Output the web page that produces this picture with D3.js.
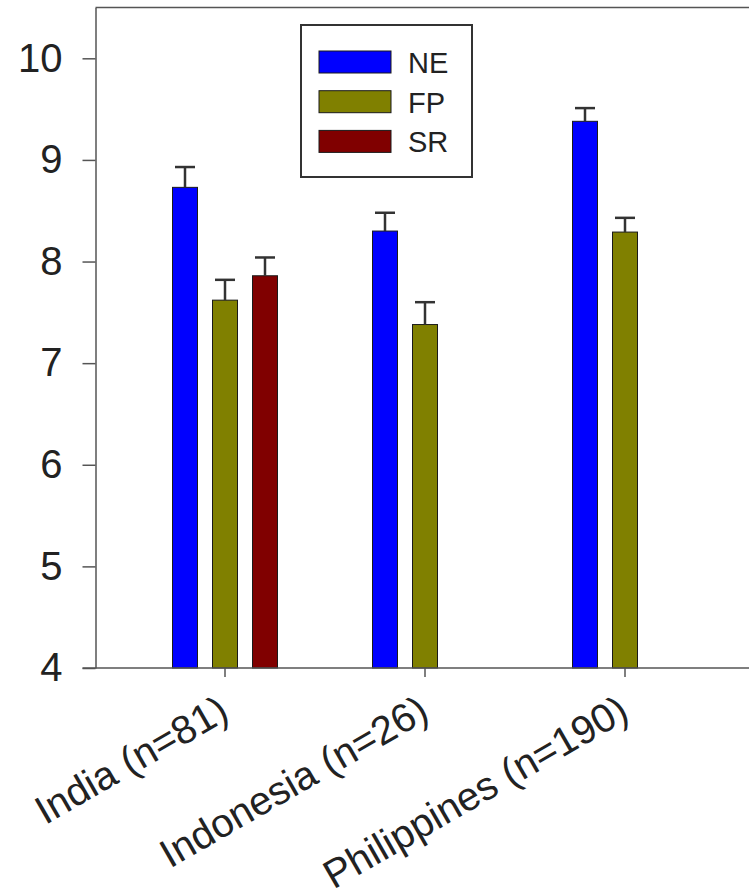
<!DOCTYPE html>
<html>
<head>
<meta charset="utf-8">
<script src="https://cdn.jsdelivr.net/npm/d3@7"></script>
<style>
  html, body { margin: 0; padding: 0; background: #fff; }
  svg { display: block; font-family: "Liberation Sans", Arial, sans-serif; }
  .axis text { fill: #222; }
  .axis line { stroke: #555; stroke-width: 1.5; }
</style>
</head>
<body>
<div id="chart"></div>
<script>
// chart values
const categories = ['India (n=81)', 'Indonesia (n=26)', 'Philippines (n=190)'];
const seriesNames = ['NE', 'FP', 'SR'];
const neValues = [8.73, 8.30, 9.38];
const fpValues = [7.62, 7.38, 8.29];
const srValues = [7.86, null, null];
const neErrors = [0.20, 0.18, 0.13];
const fpErrors = [0.20, 0.22, 0.14];
const srErrors = [0.18, null, null];
const yDomain = [4, 10.5];
const yTicks = [4, 5, 6, 7, 8, 9, 10];

const colors = d3.scaleOrdinal().domain(seriesNames).range(['#0000ff', '#808000', '#800000']);

const width = 749;
const height = 894;
const plotLeft = 95.5;
const plotRight = 780;   // frame runs off the right edge of the picture
const plotTop = 7.5;
const plotBottom = 668;

// flatten into one row per bar
const rows = [];
const seriesValues = [neValues, fpValues, srValues];
const seriesErrors = [neErrors, fpErrors, srErrors];
seriesNames.forEach((s, si) => {
  categories.forEach((c, ci) => {
    const v = seriesValues[si][ci];
    if (v == null) return;
    rows.push({ series: s, category: c, value: v, err: seriesErrors[si][ci] });
  });
});

const svg = d3.select('#chart').append('svg')
  .attr('width', width)
  .attr('height', height);

const x = d3.scaleBand().domain(categories).range([125, 725]).padding(0);
const xSub = d3.scaleBand().domain(seriesNames).range([-60, 60])
  .paddingInner(0.375).paddingOuter(0.1875);
const y = d3.scaleLinear().domain(yDomain).range([plotBottom, plotTop]);

const barX = d => x(d.category) + x.bandwidth() / 2 + xSub(d.series);

// frame: top line
svg.append('line')
  .attr('x1', plotLeft).attr('x2', plotRight)
  .attr('y1', plotTop).attr('y2', plotTop)
  .attr('stroke', '#555').attr('stroke-width', 1.5);

// bars
svg.append('g').attr('class', 'bars')
  .selectAll('rect')
  .data(rows)
  .enter()
    .append('rect')
      .attr('x', barX)
      .attr('y', d => y(d.value))
      .attr('width', xSub.bandwidth())
      .attr('height', d => y(yDomain[0]) - y(d.value))
      .attr('fill', d => colors(d.series))
      .attr('stroke', '#1a1a1a')
      .attr('stroke-width', 1);

// error bars (upper only)
const errG = svg.append('g').attr('class', 'errors')
  .selectAll('g')
  .data(rows)
  .enter()
    .append('g')
      .attr('transform', d => `translate(${barX(d) + xSub.bandwidth() / 2},0)`);

errG.append('line')
  .attr('x1', 0).attr('x2', 0)
  .attr('y1', d => y(d.value))
  .attr('y2', d => y(d.value + d.err))
  .attr('stroke', '#333').attr('stroke-width', 2.5);

errG.append('line')
  .attr('x1', -10).attr('x2', 10)
  .attr('y1', d => y(d.value + d.err))
  .attr('y2', d => y(d.value + d.err))
  .attr('stroke', '#333').attr('stroke-width', 2.5);

// y axis
const yAxis = svg.append('g')
  .attr('class', 'axis y-axis')
  .attr('transform', `translate(${plotLeft},0)`)
  .call(d3.axisLeft(y).tickValues(yTicks).tickFormat(d3.format('d'))
    .tickSize(13).tickSizeOuter(0).tickPadding(20));
yAxis.select('.domain').attr('stroke', '#555').attr('stroke-width', 1.5);
yAxis.selectAll('text').attr('font-size', 40);

// x axis
const xAxis = svg.append('g')
  .attr('class', 'axis x-axis')
  .attr('transform', `translate(0,${plotBottom})`)
  .call(d3.axisBottom(x).tickSize(9).tickSizeOuter(0));
xAxis.select('.domain').remove();
xAxis.append('line')
  .attr('x1', plotLeft - 13).attr('x2', plotRight)
  .attr('y1', 0).attr('y2', 0)
  .attr('stroke', '#555').attr('stroke-width', 1.5);
xAxis.selectAll('.tick text')
  .attr('font-size', 40)
  .attr('text-anchor', 'end')
  .attr('x', 0).attr('y', 0).attr('dy', 0)
  .attr('transform', 'translate(6,50) rotate(-30)');

// legend
const legend = svg.append('g').attr('class', 'legend');
legend.append('rect')
  .attr('x', 301).attr('y', 25)
  .attr('width', 171).attr('height', 152)
  .attr('fill', '#fff')
  .attr('stroke', '#333').attr('stroke-width', 2);

const item = legend.selectAll('.item')
  .data(seriesNames)
  .enter()
    .append('g')
      .attr('class', 'item')
      .attr('transform', (d, i) => `translate(319,${51 + i * 39.7})`);

item.append('rect')
  .attr('width', 72).attr('height', 22)
  .attr('fill', d => colors(d))
  .attr('stroke', '#1a1a1a').attr('stroke-width', 1);

item.append('text')
  .attr('x', 89).attr('y', 22)
  .attr('font-size', 29)
  .attr('fill', '#222')
  .text(d => d);
</script>
</body>
</html>
